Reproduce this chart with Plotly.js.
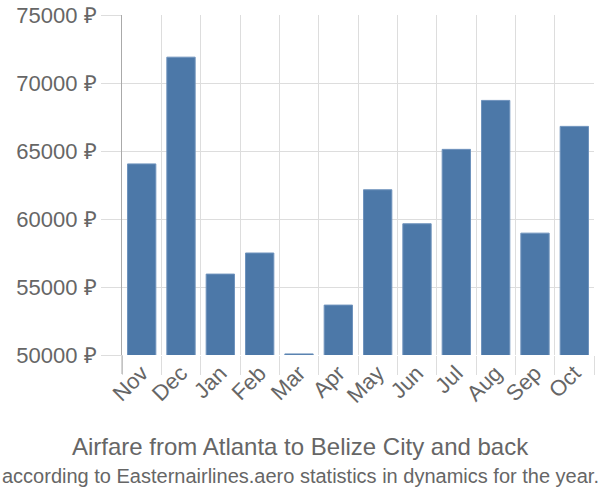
<!DOCTYPE html>
<html>
<head>
<meta charset="utf-8">
<script src="https://cdn.plot.ly/plotly-3.0.1.min.js"></script>
<style>html,body{margin:0;padding:0;background:#fff}#chart{width:600px;height:500px}</style>
</head>
<body>
<div id="chart"></div>
<script>
var months = ["Nov","Dec","Jan","Feb","Mar","Apr","May","Jun","Jul","Aug","Sep","Oct"];
var prices = [64050, 71900, 55950, 57500, 50080, 53670, 62150, 59650, 65120, 68720, 58960, 66810];
var yTicks = [50000, 55000, 60000, 65000, 70000, 75000];
var yTickLabels = yTicks.map(function(v){ return v + " ₽"; });
var titleText = "Airfare from Atlanta to Belize City and back";
var subtitleText = "according to Easternairlines.aero statistics in dynamics for the year.";

var font = "Liberation Sans, Arial, sans-serif";
var cx = (300 - 122) / 472;
Plotly.newPlot("chart", [{
  type: "bar",
  x: months,
  y: prices,
  marker: {color: "#4c78a8", line: {color: "#6f93bd", width: 1}},
  hoverinfo: "none"
}], {
  width: 600, height: 500,
  margin: {l: 122, r: 6, t: 15, b: 145},
  paper_bgcolor: "#fff", plot_bgcolor: "#fff",
  bargap: 0.28,
  showlegend: false,
  font: {family: font, color: "#666"},
  xaxis: {
    type: "category",
    tickson: "boundaries",
    showgrid: true, gridcolor: "#ddd", gridwidth: 1,
    ticks: "outside", ticklen: 19, tickcolor: "#ddd", tickwidth: 1,
    tickangle: -45,
    tickfont: {size: 22, color: "#666", family: font},
    showline: false, zeroline: false
  },
  yaxis: {
    range: [50000, 75000],
    tickvals: yTicks, ticktext: yTickLabels,
    showgrid: true, gridcolor: "#ddd", gridwidth: 1,
    ticks: "outside", ticklen: 20, tickcolor: "#ddd", tickwidth: 1,
    tickfont: {size: 22, color: "#666", family: font},
    showline: true, linecolor: "#aaa", linewidth: 1,
    zeroline: false
  },
  shapes: [
    {type: "line", xref: "paper", yref: "paper", x0: 0, x1: 0, y0: -19/340, y1: 0,
     line: {color: "#aaa", width: 1}}
  ],
  annotations: [
    {text: titleText, xref: "paper", yref: "paper", x: cx, y: 0, xanchor: "center", yanchor: "middle",
     yshift: -91, showarrow: false, font: {size: 24, color: "#666", family: font}},
    {text: subtitleText, xref: "paper", yref: "paper", x: cx, y: 0, xanchor: "center", yanchor: "middle",
     yshift: -121, showarrow: false, font: {size: 20, color: "#666", family: font}}
  ]
}, {displayModeBar: false, staticPlot: true});
</script>
</body>
</html>
